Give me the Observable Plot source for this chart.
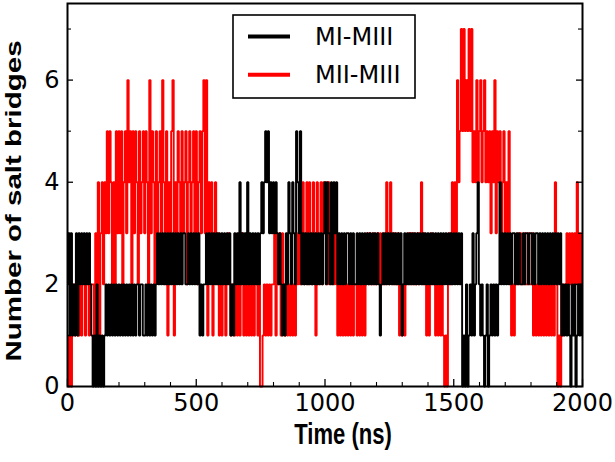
<!DOCTYPE html>
<html>
<head>
<meta charset="utf-8">
<script src="https://cdn.jsdelivr.net/npm/d3@7"></script>
<script src="https://cdn.jsdelivr.net/npm/@observablehq/plot@0.6"></script>
<style>
  html, body { margin: 0; padding: 0; background: #fff; }
  #chart { position: relative; width: 615px; height: 462px; }
</style>
</head>
<body>
<div id="chart"></div>
<script>
// Sampling step of the series (ns)
const timeStep = 5;
const seriesNames = ["MI-MIII", "MII-MIII"];
const seriesColors = ["#000000", "#ff0000"];

// MI-MIII, one row per 100 ns (values at 5 ns steps)
const mi_miii = [
  2,3,1,3,1,2,1,3,1,3,2,3,2,3,2,3,2,3,2,1,
  0,1,0,2,0,1,0,1,0,1,2,1,2,1,2,1,2,1,2,1,
  2,1,2,1,2,1,2,1,2,1,2,1,2,1,2,2,1,2,2,1,
  1,2,1,2,1,2,1,2,1,2,3,2,3,2,3,2,3,2,3,2,
  3,2,3,2,3,2,3,2,3,2,3,3,2,2,3,2,3,2,3,2,
  3,2,3,1,2,1,2,2,3,2,3,2,3,2,3,2,3,2,3,2,
  3,2,3,2,3,2,3,1,2,1,3,2,3,2,4,2,3,2,3,2,
  4,2,3,2,3,2,3,2,3,2,3,4,3,4,5,4,5,3,4,3,
  4,3,4,3,2,3,2,1,2,1,3,2,4,3,2,4,3,2,5,4,
  3,5,2,3,2,3,2,3,2,3,2,3,2,3,2,3,2,3,2,3,
  4,2,4,3,2,4,2,4,3,4,2,3,2,3,2,3,2,3,3,2,
  3,2,3,2,2,3,2,3,2,3,2,3,2,3,2,3,2,3,2,3,
  2,3,2,1,2,3,2,3,2,3,2,3,2,3,2,3,2,3,2,3,
  1,2,3,2,3,2,3,2,3,2,3,2,3,2,3,2,3,2,3,2,
  3,2,3,2,3,2,3,2,3,2,3,2,3,2,3,2,3,2,3,2,
  3,2,3,2,3,2,3,0,1,0,2,0,1,2,1,3,1,2,3,4,
  2,1,2,1,0,1,2,0,1,2,1,2,1,2,1,2,4,2,3,2,
  3,2,3,2,3,2,3,3,2,3,2,3,2,2,3,2,3,3,2,3,
  3,2,3,2,3,3,2,3,2,3,2,3,2,3,2,3,2,3,2,3,
  2,3,2,3,1,2,1,2,1,2,1,0,2,1,2,0,1,2,1,2,
  1
];

// MII-MIII, one row per 100 ns (values at 5 ns steps)
const mii_miii = [
  1,0,1,0,1,2,1,2,1,1,2,1,2,2,1,2,2,1,2,2,
  2,1,3,2,4,1,3,4,2,4,3,5,3,5,4,2,4,2,5,3,
  5,3,5,2,4,5,3,6,4,5,2,5,3,5,4,2,5,3,4,5,
  3,5,4,2,6,3,5,4,2,5,3,4,5,3,6,4,2,5,1,4,
  2,5,6,1,4,3,5,4,3,5,3,4,5,2,4,5,3,4,5,3,
  5,2,4,5,3,5,6,3,6,1,4,3,4,1,3,4,2,3,1,2,
  1,2,2,1,2,3,2,1,2,2,1,2,1,2,1,2,3,1,2,1,
  2,1,2,1,2,1,2,2,1,2,0,0,1,2,1,2,1,2,1,2,
  2,3,1,3,2,3,1,3,2,1,2,1,2,1,2,1,2,1,3,2,
  3,2,3,4,2,3,4,2,4,3,2,4,3,1,4,2,3,4,2,4,
  3,4,2,4,3,2,3,2,3,2,1,2,1,2,1,2,1,2,1,2,
  1,2,1,2,2,1,2,1,2,1,2,1,2,3,2,3,2,2,3,2,
  2,3,2,3,2,2,3,2,4,3,2,4,3,2,3,2,2,3,1,2,
  1,2,1,2,2,3,2,3,2,3,2,2,3,2,3,4,2,3,2,1,
  2,1,2,3,2,2,1,2,1,2,1,2,1,0,1,0,2,3,2,4,
  3,4,3,6,4,5,7,5,7,5,6,5,7,5,7,4,5,4,6,4,
  5,6,4,5,6,4,5,4,5,3,5,4,6,3,5,4,5,3,4,5,
  3,4,3,5,2,1,2,1,2,2,3,2,3,2,2,3,2,2,3,2,
  2,3,1,2,1,2,1,2,1,2,1,2,1,2,1,2,1,2,1,4,
  2,0,1,0,2,1,2,2,3,2,3,2,3,2,3,2,4,2,3,2,
  3
];

// Axis ticks
const xMajorTicks = [0, 500, 1000, 1500, 2000];
const xMinorTicks = [100, 200, 300, 400, 600, 700, 800, 900, 1100, 1200, 1300, 1400, 1600, 1700, 1800, 1900];
const yMajorTicks = [0, 2, 4, 6];
const yMinorTicks = [1, 3, 5, 7];
const xDomain = [0, 2000];
const yDomain = [0, 7.5];
const xLabel = "Time (ns)";
const yLabel = "Number of salt bridges";

const toRows = (arr) => arr.map((v, i) => ({t: i * timeStep, v}));
const blackData = toRows(mi_miii);
const redData = toRows(mii_miii);

const W = 615, H = 462;
const mL = 67, mR = 33, mT = 3, mB = 76;
const innerW = W - mL - mR, innerH = H - mT - mB;

const svg = Plot.plot({
  width: W, height: H,
  marginLeft: mL, marginRight: mR, marginTop: mT, marginBottom: mB,
  x: {domain: xDomain},
  y: {domain: yDomain},
  style: {fontFamily: "'DejaVu Sans', sans-serif", fontSize: "24px", background: "#fff", color: "#000", overflow: "visible"},
  marks: [
    Plot.line(redData, {x: "t", y: "v", curve: "step", stroke: seriesColors[1], strokeWidth: 1.9, strokeLinecap: "butt", strokeLinejoin: "miter"}),
    Plot.line(blackData, {x: "t", y: "v", curve: "step", stroke: seriesColors[0], strokeWidth: 1.9, strokeLinecap: "butt", strokeLinejoin: "miter"}),
    // bottom ticks (inward)
    Plot.ruleX(xMajorTicks, {x: d => d, insetTop: innerH - 7, stroke: "#000", strokeWidth: 1.3}),
    Plot.ruleX(xMinorTicks, {x: d => d, insetTop: innerH - 4, stroke: "#000", strokeWidth: 1.1}),
    // left ticks (inward)
    Plot.ruleY(yMajorTicks, {y: d => d, insetRight: innerW - 6, stroke: "#000", strokeWidth: 1.3}),
    Plot.ruleY(yMinorTicks, {y: d => d, insetRight: innerW - 4, stroke: "#000", strokeWidth: 1.1}),
    // right ticks (inward)
    Plot.ruleY(yMajorTicks, {y: d => d, insetLeft: innerW - 6, stroke: "#000", strokeWidth: 1.3}),
    Plot.ruleY(yMinorTicks, {y: d => d, insetLeft: innerW - 4, stroke: "#000", strokeWidth: 1.1}),
    Plot.frame({stroke: "#000", strokeWidth: 2}),
    Plot.axisX({ticks: xMajorTicks, tickSize: 0, tickPadding: 7, label: null, tickFormat: d => String(d), fontSize: 24}),
    Plot.axisY({ticks: yMajorTicks, tickSize: 0, tickPadding: 8, label: null, tickFormat: d => String(d), fontSize: 24})
  ]
});

const s = d3.select(svg);
// Axis titles
s.append("text")
  .attr("transform", "translate(343,444) scale(0.76,1)")
  .attr("text-anchor", "middle")
  .attr("font-family", "'Liberation Sans', Arial, sans-serif")
  .attr("font-weight", "bold")
  .attr("font-size", 29)
  .attr("fill", "#000")
  .text(xLabel);
s.append("text")
  .attr("transform", "translate(21,201) rotate(-90) scale(1,0.74)")
  .attr("text-anchor", "middle")
  .attr("font-family", "'Liberation Sans', Arial, sans-serif")
  .attr("font-weight", "bold")
  .attr("font-size", 29.5)
  .attr("fill", "#000")
  .text(yLabel);

// Legend box
const lg = s.append("g");
lg.append("rect").attr("x", 233).attr("y", 15).attr("width", 182).attr("height", 83)
  .attr("fill", "#fff").attr("stroke", "#000").attr("stroke-width", 1.6);
const legendY = [36.5, 74.7];
seriesNames.forEach((name, i) => {
  lg.append("line").attr("x1", 248).attr("x2", 290).attr("y1", legendY[i]).attr("y2", legendY[i])
    .attr("stroke", seriesColors[i]).attr("stroke-width", 4);
  lg.append("text").attr("x", 315).attr("y", legendY[i] + 8.6)
    .attr("text-anchor", "start")
    .attr("font-family", "'DejaVu Sans', sans-serif").attr("font-size", 24).attr("fill", "#000")
    .text(name);
});

document.getElementById("chart").appendChild(svg);
</script>
</body>
</html>
